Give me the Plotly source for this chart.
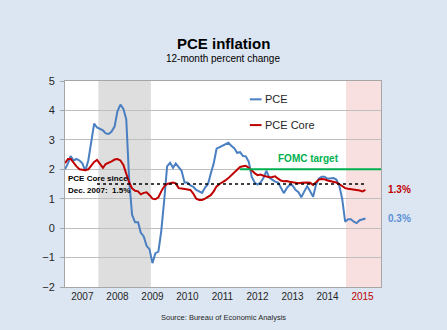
import pandas as pd
import plotly.graph_objects as go

# Monthly 12-month percent change, Jan 2007 - Aug 2015
start_month = "2007-01-01"
pce = [
    2.00, 2.20, 2.45, 2.30, 2.35, 2.30, 2.20, 1.95, 2.30, 3.00, 3.55, 3.42,  # 2007
    3.37, 3.32, 3.22, 3.20, 3.28, 3.45, 3.97, 4.20, 4.05, 3.70, 1.60, 0.45,  # 2008
    0.20, 0.20, -0.15, -0.28, -0.60, -0.72, -1.19, -0.85, -0.80, -0.10, 0.95, 2.10,  # 2009
    2.22, 2.05, 2.20, 2.05, 1.95, 1.55, 1.55, 1.45, 1.40, 1.30, 1.25, 1.20,  # 2010
    1.38, 1.50, 1.85, 2.20, 2.70, 2.75, 2.80, 2.85, 2.90, 2.80, 2.72, 2.56,  # 2011
    2.58, 2.45, 2.44, 2.25, 1.75, 1.55, 1.48, 1.55, 1.70, 1.95, 1.72, 1.65,  # 2012
    1.58, 1.55, 1.35, 1.19, 1.35, 1.47, 1.45, 1.30, 1.22, 1.05, 1.25, 1.42,  # 2013
    1.25, 1.07, 1.45, 1.68, 1.75, 1.75, 1.68, 1.68, 1.70, 1.65, 1.45, 1.00,  # 2014
    0.22, 0.30, 0.30, 0.22, 0.17, 0.27, 0.30, 0.33,                          # 2015
]
pce_core = [
    2.21, 2.35, 2.35, 2.20, 2.10, 2.00, 1.98, 1.97, 2.00, 2.12, 2.25, 2.32,  # 2007
    2.20, 2.05, 2.18, 2.22, 2.27, 2.33, 2.35, 2.30, 2.15, 1.85, 1.55, 1.35,  # 2008
    1.27, 1.25, 1.15, 1.20, 1.22, 1.12, 1.00, 0.98, 1.05, 1.25, 1.42, 1.50,  # 2009
    1.53, 1.55, 1.52, 1.36, 1.35, 1.33, 1.32, 1.30, 1.17, 1.00, 0.96, 0.96,  # 2010
    1.00, 1.07, 1.12, 1.25, 1.42, 1.50, 1.55, 1.62, 1.70, 1.80, 1.88, 1.98,  # 2011
    2.08, 2.10, 2.12, 2.05, 1.95, 1.87, 1.80, 1.82, 1.78, 1.75, 1.73, 1.74,  # 2012
    1.76, 1.68, 1.62, 1.59, 1.60, 1.58, 1.56, 1.54, 1.53, 1.54, 1.55, 1.55,  # 2013
    1.54, 1.47, 1.55, 1.65, 1.67, 1.66, 1.62, 1.60, 1.58, 1.55, 1.50, 1.42,  # 2014
    1.36, 1.34, 1.33, 1.30, 1.29, 1.28, 1.25, 1.30,                          # 2015
]
fomc_target = 2.0
core_avg_since_dec2007 = 1.5
years = [2007, 2008, 2009, 2010, 2011, 2012, 2013, 2014, 2015]
recession = ("2007-12-15", "2009-06-15")
highlight_start = "2015-01-10"

months = pd.date_range(start_month, periods=len(pce), freq="MS")
x_end = "2016-01-10"

BLUE = "#4A7FC1"
RED = "#C00000"
GREEN = "#00B050"
FONT = "Arial, Liberation Sans, sans-serif"

fig = go.Figure()

fig.add_trace(go.Scatter(x=months, y=pce, mode="lines",
                         line=dict(color=BLUE, width=2), showlegend=False))
fig.add_trace(go.Scatter(x=months, y=pce_core, mode="lines",
                         line=dict(color=RED, width=2), showlegend=False))
# FOMC 2% objective, announced Jan 2012
fig.add_trace(go.Scatter(x=["2012-01-01", x_end], y=[fomc_target, fomc_target],
                         mode="lines", line=dict(color=GREEN, width=2),
                         showlegend=False))
# Average core inflation since the start of the recession
fig.add_trace(go.Scatter(x=["2007-12-01", months[-1]],
                         y=[core_avg_since_dec2007, core_avg_since_dec2007],
                         mode="lines", line=dict(color="black", width=1.3, dash="dot"),
                         showlegend=False))

shapes = [
    dict(type="rect", xref="x", yref="paper", x0=recession[0], x1=recession[1],
         y0=0, y1=1, fillcolor="#DEDEDE", line_width=0, layer="below"),
    dict(type="rect", xref="x", yref="paper", x0=highlight_start, x1=x_end,
         y0=0, y1=1, fillcolor="#F8E0E0", line_width=0, layer="below"),
    # legend samples
    dict(type="line", xref="paper", yref="paper", x0=0.585, x1=0.622,
         y0=0.911, y1=0.911, line=dict(color=BLUE, width=2)),
    dict(type="line", xref="paper", yref="paper", x0=0.585, x1=0.622,
         y0=0.786, y1=0.786, line=dict(color=RED, width=2)),
]

annotations = [
    dict(text="<b>PCE inflation</b>", xref="paper", yref="paper", x=0.5, y=1.18,
         xanchor="center", yanchor="middle", showarrow=False,
         font=dict(size=15, color="black", family=FONT)),
    dict(text="12-month percent change", xref="paper", yref="paper", x=0.5, y=1.107,
         xanchor="center", yanchor="middle", showarrow=False,
         font=dict(size=10, color="black", family=FONT)),
    dict(text="PCE", xref="paper", yref="paper", x=0.626, y=0.911,
         xanchor="left", yanchor="middle", showarrow=False,
         font=dict(size=11, color="#262626", family=FONT)),
    dict(text="PCE Core", xref="paper", yref="paper", x=0.626, y=0.786,
         xanchor="left", yanchor="middle", showarrow=False,
         font=dict(size=11, color="#262626", family=FONT)),
    dict(text="<b>FOMC target</b>", xref="x", yref="y", x="2013-12-15", y=fomc_target,
         yshift=11, xanchor="center", yanchor="middle", showarrow=False,
         font=dict(size=10, color=GREEN, family=FONT)),
    dict(text="<b>PCE Core since</b>", xref="paper", yref="y", x=0.003, y=core_avg_since_dec2007,
         yshift=6, xanchor="left", yanchor="middle", showarrow=False,
         font=dict(size=8, color="black", family=FONT)),
    dict(text="<b>Dec. 2007:  1.5%</b>", xref="paper", yref="y", x=0.003, y=core_avg_since_dec2007,
         yshift=-6, xanchor="left", yanchor="middle", showarrow=False,
         font=dict(size=8, color="black", family=FONT)),
    dict(text=f"<b>{pce_core[-1]:.1f}%</b>", xref="paper", yref="y", x=1, y=pce_core[-1],
         xshift=5, xanchor="left", yanchor="middle", showarrow=False,
         font=dict(size=10, color=RED, family=FONT)),
    dict(text=f"<b>{pce[-1]:.1f}%</b>", xref="paper", yref="y", x=1, y=pce[-1],
         xshift=5, xanchor="left", yanchor="middle", showarrow=False,
         font=dict(size=10, color="#5B8FD6", family=FONT)),
    dict(text="Source: Bureau of Economic Analysis", xref="paper", yref="paper",
         x=0.5, y=-0.149, xanchor="center", yanchor="middle", showarrow=False,
         font=dict(size=7.5, color="#262626", family=FONT)),
]

tick_text = [str(y) if y != 2015 else f"<span style='color:{RED}'>{y}</span>" for y in years]

fig.update_layout(
    width=447, height=330,
    margin=dict(l=65, r=66, t=81, b=43),
    paper_bgcolor="#DCE6F2",
    plot_bgcolor="white",
    font=dict(family=FONT, color="#262626"),
    shapes=shapes,
    annotations=annotations,
    xaxis=dict(
        range=[start_month, x_end],
        tickvals=[f"{y}-07-01" for y in years],
        ticktext=tick_text,
        tickfont=dict(size=10, color="#262626"),
        showgrid=False, zeroline=False,
        showline=True, linecolor="#A6A6A6", linewidth=1, mirror=True,
        ticks="",
    ),
    yaxis=dict(
        range=[-2, 5], dtick=1,
        tickfont=dict(size=11, color="#262626"),
        showgrid=True, gridcolor="#BFBFBF", gridwidth=1,
        zeroline=False,
        showline=True, linecolor="#A6A6A6", linewidth=1, mirror=True,
        ticks="outside", ticklen=4, tickcolor="#A6A6A6",
        ticklabelstandoff=3,
    ),
)

fig.write_html("out.html")
